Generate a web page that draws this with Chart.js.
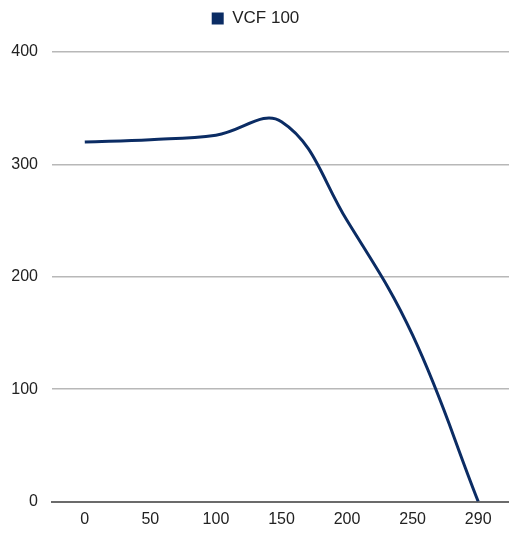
<!DOCTYPE html>
<html>
<head>
<meta charset="utf-8">
<script src="https://cdn.jsdelivr.net/npm/chart.js@4.4.0/dist/chart.umd.min.js"></script>
<style>
  html, body { margin: 0; padding: 0; background: #fff; }
  #wrap { width: 509px; height: 534px; overflow: hidden; }
</style>
</head>
<body>
<div id="wrap"><canvas id="line-chart" width="511" height="534"></canvas></div>
<script>
// chart data
const categories = ['0', '50', '100', '150', '200', '250', '290'];
const vcf100 = [320, 322, 326, 338, 250, 148, 0];
const yTicks = [0, 100, 200, 300, 400];

const lineColor = '#0b2c64';
const tickFont = { family: 'Liberation Sans', size: 16 };

// make room above the plot like the original (legend block is taller)
const legendSpace = {
    id: 'legendSpace',
    beforeInit(chart) {
        const fit = chart.legend.fit;
        chart.legend.fit = function () {
            fit.call(this);
            this.height = 50;
        };
    }
};

const ctx = document.getElementById('line-chart').getContext('2d');
new Chart(ctx, {
    type: 'line',
    data: {
        labels: categories,
        datasets: [{
            label: 'VCF 100',
            data: vcf100,
            borderColor: lineColor,
            backgroundColor: lineColor,
            borderWidth: 3,
            pointRadius: 0,
            tension: 0.4,
            fill: false
        }]
    },
    options: {
        responsive: false,
        animation: false,
        layout: {
            padding: { left: 0, right: 0, top: 2, bottom: 0 }
        },
        plugins: {
            legend: {
                position: 'top',
                labels: {
                    boxWidth: 12,
                    boxHeight: 12,
                    padding: 8,
                    color: '#222',
                    font: { family: 'Liberation Sans', size: 17 },
                    generateLabels: function (chart) {
                        const items = Chart.defaults.plugins.legend.labels.generateLabels(chart);
                        items.forEach(it => { it.lineWidth = 0; });
                        return items;
                    }
                }
            },
            tooltip: { enabled: false }
        },
        scales: {
            x: {
                offset: true,
                afterFit: function (scale) { scale.height = 32.5; },
                grid: { display: false, drawTicks: false },
                border: { display: true, color: '#6b6b6b', width: 2 },
                ticks: {
                    padding: 8,
                    color: '#222',
                    font: tickFont
                }
            },
            y: {
                min: yTicks[0],
                max: yTicks[yTicks.length - 1],
                afterBuildTicks: function (scale) {
                    scale.ticks = yTicks.map(v => ({ value: v }));
                },
                afterFit: function (scale) { scale.width = 52; },
                grid: {
                    color: '#b8b8b8',
                    lineWidth: 1.5,
                    drawTicks: false
                },
                border: { display: false },
                ticks: {
                    padding: 14,
                    color: '#222',
                    font: tickFont
                }
            }
        }
    },
    plugins: [legendSpace]
});
</script>
</body>
</html>
